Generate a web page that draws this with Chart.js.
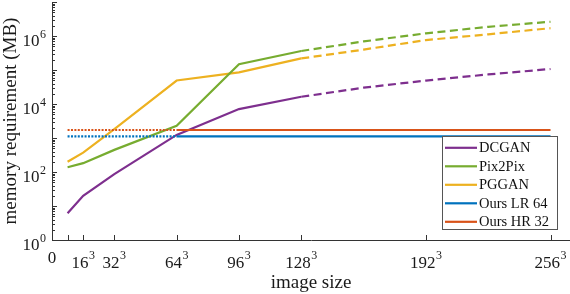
<!DOCTYPE html>
<html><head><meta charset="utf-8">
<script src="https://cdn.jsdelivr.net/npm/chart.js@4.4.0/dist/chart.umd.min.js"></script>
<style>html,body{margin:0;padding:0;background:#fff;}canvas{display:block;}</style>
</head><body>
<canvas id="c" width="570" height="294"></canvas>
<script>
// ---- data ----
const seriesNames = ['DCGAN', 'Pix2Pix', 'PGGAN', 'Ours LR 64', 'Ours HR 32'];
const seriesColors = ['#7E2F8E', '#77AC30', '#EDB120', '#0072BD', '#D95319'];
const measuredSizes = [8, 16, 32, 64, 96, 128];
const extrapSizes = [128, 160, 192, 224, 256];
const dcganMeasured = [6.1, 20, 87, 1230, 7100, 16300];
const dcganExtrap = [16300, 30200, 49000, 74000, 107000];
const pix2pixMeasured = [138, 182, 447, 2290, 148000, 363000];
const pix2pixExtrap = [363000, 692000, 1200000, 1860000, 2630000];
const pgganMeasured = [200, 372, 1820, 49000, 85000, 219000];
const pgganExtrap = [219000, 398000, 759000, 1120000, 1700000];
const flatSizesLow = [8, 64];
const flatSizesHigh = [64, 256];
const oursLRValues = [1120, 1120];
const oursHRValues = [1720, 1720];
const xTickValues = [0, 8, 16, 32, 64, 96, 128, 192, 256];
const xTickLabels = ['0', '', '16³', '32³', '64³', '96³', '128³', '192³', '256³'];
const yTickValues = [1, 100, 10000, 1000000];
const yTickLabels = ['10⁰', '10²', '10⁴', '10⁶'];

const FONT = "'Liberation Serif', 'Times New Roman', serif";
const AXIS_COLOR = '#333333';
const TEXT_COLOR = '#1a1a1a';
const SUP = { '⁰': '0', '¹': '1', '²': '2', '³': '3', '⁴': '4', '⁵': '5', '⁶': '6', '⁷': '7', '⁸': '8', '⁹': '9' };

function pts(xs, ys) { return xs.map((x, i) => ({ x: x, y: ys[i] })); }
function ds(name, idx, xs, ys, style) {
  const dash = style === 'dashed' ? [8, 4.5] : style === 'dotted' ? [2, 1.4] : [];
  return {
    label: name,
    data: pts(xs, ys), borderColor: seriesColors[idx], backgroundColor: seriesColors[idx],
    borderWidth: 2.2, borderDash: dash, pointRadius: 0, fill: false, tension: 0
  };
}

const datasets = [
  ds(seriesNames[3], 3, flatSizesLow, oursLRValues, 'dotted'),
  ds(seriesNames[3], 3, flatSizesHigh, oursLRValues, 'solid'),
  ds(seriesNames[4], 4, flatSizesLow, oursHRValues, 'dotted'),
  ds(seriesNames[4], 4, flatSizesHigh, oursHRValues, 'solid'),
  ds(seriesNames[0], 0, measuredSizes, dcganMeasured, 'solid'),
  ds(seriesNames[0], 0, extrapSizes, dcganExtrap, 'dashed'),
  ds(seriesNames[1], 1, measuredSizes, pix2pixMeasured, 'solid'),
  ds(seriesNames[1], 1, extrapSizes, pix2pixExtrap, 'dashed'),
  ds(seriesNames[2], 2, measuredSizes, pgganMeasured, 'solid'),
  ds(seriesNames[2], 2, extrapSizes, pgganExtrap, 'dashed')
];

function splitSup(label) {
  let base = '', exp = '';
  for (const ch of label) { if (SUP[ch] !== undefined) exp += SUP[ch]; else base += ch; }
  return { base, exp };
}
// draws "base^exp" with a real raised exponent
function drawSupLabel(ctx, label, x, baseline, align, baseSize, expSize, raise) {
  const { base, exp } = splitSup(label);
  ctx.font = baseSize + 'px ' + FONT;
  const wb = ctx.measureText(base).width;
  ctx.font = expSize + 'px ' + FONT;
  const we = exp ? ctx.measureText(exp).width + 0.5 : 0;
  const total = wb + we;
  const start = align === 'center' ? x - total / 2 : x - total;
  ctx.textAlign = 'left'; ctx.textBaseline = 'alphabetic';
  ctx.font = baseSize + 'px ' + FONT;
  ctx.fillText(base, start, baseline);
  if (exp) { ctx.font = expSize + 'px ' + FONT; ctx.fillText(exp, start + wb + 0.5, baseline - raise); }
}

const axisDecor = {
  id: 'axisDecor',
  afterDatasetsDraw(chart) {
    const ctx = chart.ctx, xs = chart.scales.x, ys = chart.scales.y, a = chart.chartArea;
    ctx.save();
    // inward tick marks
    ctx.strokeStyle = AXIS_COLOR; ctx.lineWidth = 1;
    ctx.beginPath();
    xTickValues.forEach(v => {
      if (v === 0) return;
      const px = Math.round(xs.getPixelForValue(v)) + 0.5;
      ctx.moveTo(px, a.bottom); ctx.lineTo(px, a.bottom - 5);
    });
    for (let k = 0; k <= 7; k++) {
      for (let m = 1; m <= 9; m++) {
        if (k === 7 && m > 1) break;
        const py = Math.round(ys.getPixelForValue(m * Math.pow(10, k))) + 0.5;
        ctx.moveTo(a.left, py); ctx.lineTo(a.left + (m === 1 ? 5 : 3), py);
      }
    }
    ctx.stroke();
    // tick labels with raised exponents
    ctx.fillStyle = TEXT_COLOR;
    xTickValues.forEach((v, i) => {
      const lab = xTickLabels[i];
      if (!lab) return;
      const px = xs.getPixelForValue(v);
      const hasExp = splitSup(lab).exp !== '';
      drawSupLabel(ctx, lab, px, hasExp ? 268 : 263, 'center', 17, 12, 9.5);
    });
    yTickValues.forEach((v, i) => {
      const py = ys.getPixelForValue(v);
      drawSupLabel(ctx, yTickLabels[i], a.left - 6, py + 9.5, 'right', 17, 12, 8);
    });
    ctx.restore();
  }
};

const boxLegend = {
  id: 'boxLegend',
  afterDraw(chart) {
    const ctx = chart.ctx;
    const L = 442.5, T = 136.5, R = 557.5, B = 229.5;
    ctx.save();
    ctx.fillStyle = '#ffffff';
    ctx.fillRect(L, T, R - L, B - T);
    ctx.strokeStyle = '#555555'; ctx.lineWidth = 1;
    ctx.strokeRect(L, T, R - L, B - T);
    ctx.font = '14.5px ' + FONT;
    ctx.textBaseline = 'middle';
    ctx.textAlign = 'left';
    ctx.fillStyle = '#111111';
    seriesNames.forEach((name, i) => {
      const y = 147.8 + i * 18.5;
      ctx.strokeStyle = seriesColors[i]; ctx.lineWidth = 2.2;
      ctx.beginPath(); ctx.moveTo(445, y); ctx.lineTo(477, y); ctx.stroke();
      ctx.fillText(name, 479, y + 0.5);
    });
    ctx.restore();
  }
};

new Chart(document.getElementById('c'), {
  type: 'line',
  data: { datasets: datasets },
  options: {
    responsive: false, animation: false, devicePixelRatio: 1,
    layout: { padding: { top: 2, right: 0, left: 0, bottom: 0 } },
    plugins: { legend: { display: false }, tooltip: { enabled: false } },
    scales: {
      x: {
        type: 'linear', min: 0, max: 266,
        grid: { display: false, drawTicks: false },
        border: { display: true, color: AXIS_COLOR, width: 1 },
        afterBuildTicks: s => { s.ticks = xTickValues.map(v => ({ value: v })); },
        afterFit: s => { s.height = 54; },
        ticks: { display: false },
        title: { display: true, text: 'image size', color: TEXT_COLOR, font: { family: FONT, size: 19 }, padding: { top: 0, bottom: 0 } }
      },
      y: {
        type: 'logarithmic', min: 1, max: 1e7,
        grid: { display: false, drawTicks: false },
        border: { display: true, color: AXIS_COLOR, width: 1 },
        afterBuildTicks: s => { s.ticks = yTickValues.map(v => ({ value: v })); },
        afterFit: s => { s.width = 52; },
        ticks: { display: false },
        title: { display: true, text: 'memory requirement (MB)', color: TEXT_COLOR, font: { family: FONT, size: 19 }, padding: { top: 0, bottom: 0 } }
      }
    }
  },
  plugins: [axisDecor, boxLegend]
});
</script>
</body></html>
